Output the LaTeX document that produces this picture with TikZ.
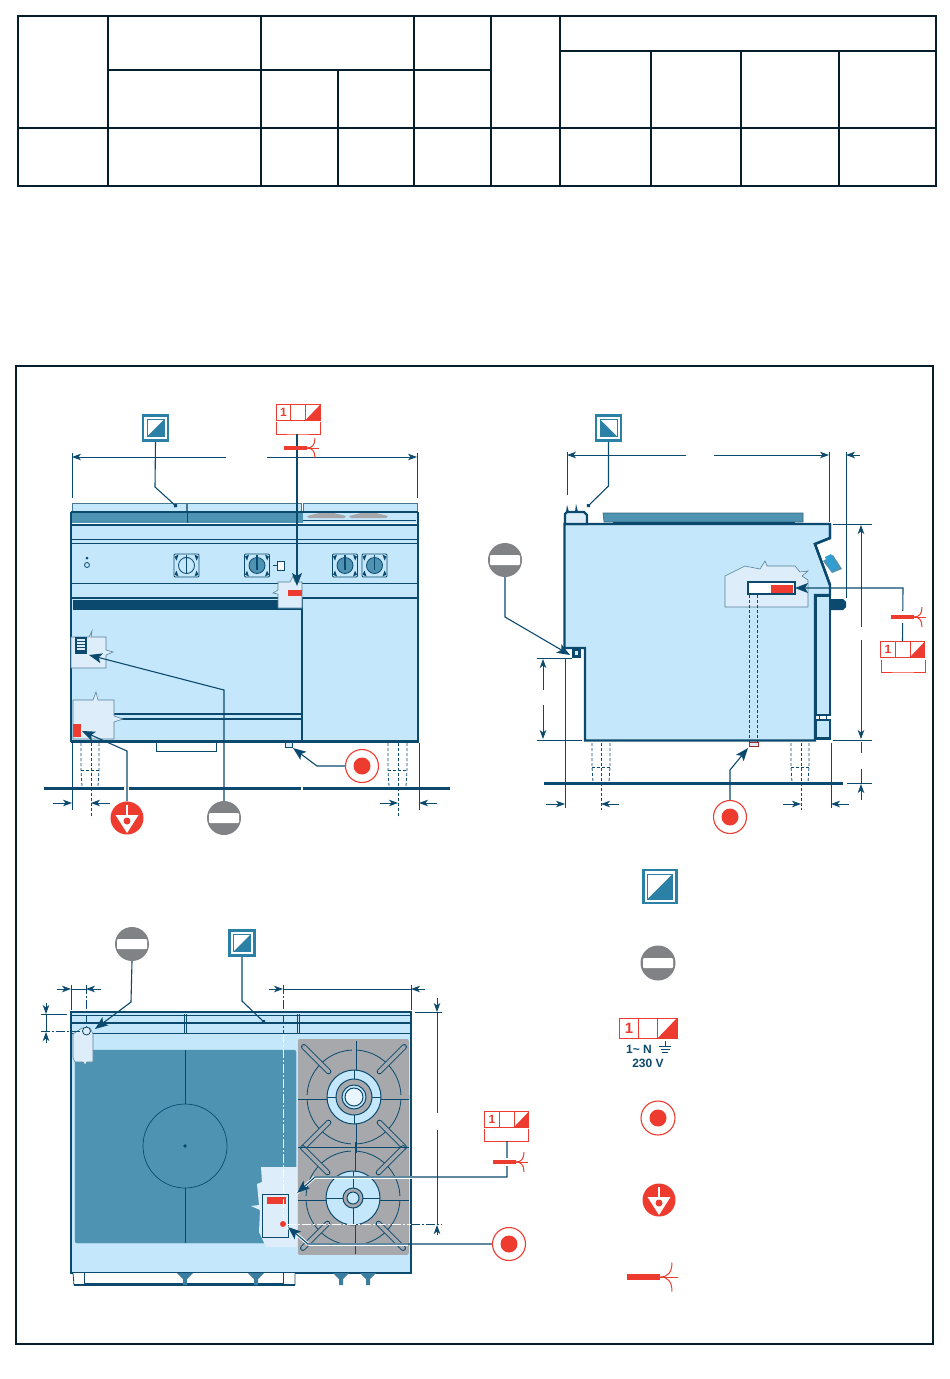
\documentclass[tikz,border=0pt]{standalone}
\usepackage{fontspec}
\setsansfont{Liberation Sans}
\usetikzlibrary{arrows.meta,calc}

\definecolor{navyline}{HTML}{0B4A6E}
\definecolor{bodyblue}{HTML}{C5E7FB}
\definecolor{cutblue}{HTML}{DDEDFA}
\definecolor{platemid}{HTML}{4F93B2}
\definecolor{gasteal}{HTML}{2A80A5}
\definecolor{signred}{HTML}{EE3B2F}
\definecolor{signgrey}{HTML}{808285}
\definecolor{hobgrey}{HTML}{A6A8AB}

\tikzset{
  dimline/.style={draw=navyline,line width=0.8pt},
  dimarrow/.style={dimline,-{Stealth[length=9pt,width=6.5pt,inset=2.5pt]}},
  legdash/.style={dimline,dash pattern=on 3pt off 2pt},
  chaindash/.style={line width=0.8pt,dash pattern=on 9pt off 2pt on 2pt off 2pt},
  leader/.style={draw=navyline,line width=1.1pt,-{Stealth[length=13pt,width=10pt,inset=3pt]}},
  dotleader/.style={draw=navyline,line width=1.1pt,-{Circle[length=4pt]}},
  casing/.style={draw=white,line width=3pt},
  thickedge/.style={draw=navyline,line width=2.4pt},
  thinedge/.style={draw=navyline,line width=0.8pt},
  cutout/.style={fill=cutblue,draw=navyline!70,line width=0.6pt},
  floorline/.style={draw=navyline,line width=3pt},
  % symbols
  gasbox/.style={rectangle,draw=gasteal,line width=2.6pt,fill=white,minimum size=#1,inner sep=0pt},
  gasright/.style={gasbox=#1,path picture={
    \draw[gasteal,line width=0.8pt] ($(path picture bounding box.north west)+(4,4)$)
      rectangle ($(path picture bounding box.south east)+(-4,-4)$);
    \fill[gasteal] ($(path picture bounding box.north east)+(-4,4)$)
      -- ($(path picture bounding box.south east)+(-4,-4)$)
      -- ($(path picture bounding box.south west)+(4,-4)$) -- cycle;}},
  gasleft/.style={gasbox=#1,path picture={
    \draw[gasteal,line width=0.8pt] ($(path picture bounding box.north west)+(4,4)$)
      rectangle ($(path picture bounding box.south east)+(-4,-4)$);
    \fill[gasteal] ($(path picture bounding box.north west)+(4,4)$)
      -- ($(path picture bounding box.south east)+(-4,-4)$)
      -- ($(path picture bounding box.south west)+(4,-4)$) -- cycle;}},
  nogosym/.style={circle,fill=signgrey,minimum size=34pt,inner sep=0pt,path picture={
    \fill[white,rounded corners=1pt] ($(path picture bounding box.center)+(-15,-5)$)
      rectangle ($(path picture bounding box.center)+(15,5)$);}},
  watersym/.style={circle,draw=signred,line width=1.1pt,fill=white,minimum size=33pt,inner sep=0pt,path picture={
    \fill[signred] (path picture bounding box.center) circle[radius=8.5pt];}},
  equisym/.style={circle,fill=signred,minimum size=33pt,inner sep=0pt,path picture={
    \fill[white] ($(path picture bounding box.center)+(-11.5,-3)$) -- ($(path picture bounding box.center)+(11.5,-3)$)
      -- ($(path picture bounding box.center)+(0,15)$) -- cycle;
    \draw[white,line width=1.3pt] ($(path picture bounding box.center)+(0,-13)$) -- (path picture bounding box.center);
    \fill[signred] ($(path picture bounding box.center)+(0,3)$) circle[radius=3.5pt];}},
  phasebox/.style={rectangle,draw=signred,line width=0.9pt,fill=white,minimum width=#1,minimum height=0.345*#1,inner sep=0pt,
    path picture={
    \fill[signred] (path picture bounding box.south east)
      -- ($(path picture bounding box.south east)!0.33!(path picture bounding box.south west)$)
      -- (path picture bounding box.north east) -- cycle;
    \draw[signred,line width=0.9pt] ($(path picture bounding box.south east)!0.33!(path picture bounding box.south west)$)
      -- ($(path picture bounding box.north east)!0.33!(path picture bounding box.north west)$);
    \draw[signred,line width=0.9pt] ($(path picture bounding box.south west)!0.33!(path picture bounding box.south east)$)
      -- ($(path picture bounding box.north west)!0.33!(path picture bounding box.north east)$);}},
  phaseno/.style={text=signred,inner sep=0pt},
  powerlabel/.style={text=navyline,font=\fontsize{#1}{12}\selectfont\sffamily\bfseries,inner sep=0pt},
  cablesym/.pic={
    \fill[signred] (0,-1.8) rectangle (23,1.8);
    \draw[signred,line width=1pt] (22,0) -- (35,0);
    \draw[signred,line width=1pt] (23,0) .. controls (28,0) and (31,-3) .. (31,-10);
    \draw[signred,line width=1pt] (23,0) .. controls (28,0) and (31,3) .. (31,10);
  },
  knobsym/.pic={
    \draw[thinedge,fill=bodyblue,rounded corners=1pt] (-12.5,-11.5) rectangle (12.5,11.5);
    \fill[platemid] (0,0) circle[radius=8];
    \draw[thinedge] (0,0) circle[radius=8];
    \draw[navyline,line width=1.8pt] (0,-11) -- (0,4);
    \foreach \a in {-1,1} {
      \fill[navyline] (\a*12,-9) -- (\a*8,-11) -- (\a*10,-5) -- cycle;
      \fill[navyline] (\a*12,9) -- (\a*8,11) -- (\a*10,5) -- cycle;
    }
  },
  burnersym/.pic={
    \draw[thinedge] (0,0) circle[radius=47];
    \foreach \a in {45,135,225,315} {
      \draw[navyline,line width=5.5pt,line cap=round] (\a:36) -- (\a:71);
      \draw[hobgrey,line width=3.8pt,line cap=round] (\a:36) -- (\a:71);
    }
    \foreach \a in {0,90,180,270} {
      \draw[navyline,line width=5pt] (\a:24) -- (\a:56);
      \draw[hobgrey,line width=3.2pt] (\a:24) -- (\a:56);
    }
    \draw[navyline,line width=1pt,fill=bodyblue] (0,0) circle[radius=27];
  }
}

\begin{document}
\begin{tikzpicture}[x=1pt,y=-1pt]
\useasboundingbox (0,0) rectangle (950,1379);

% table at the top
\draw[navyline!40!black,line width=2pt] (18,16) rectangle (936,186);
\foreach \x in {108,261,414,491,560}
  \draw[navyline!40!black,line width=1.5pt] (\x,16) -- (\x,186);
\foreach \x in {651,741,839}
  \draw[navyline!40!black,line width=1.5pt] (\x,51) -- (\x,186);
\draw[navyline!40!black,line width=1.5pt] (338,70) -- (338,186);
\draw[navyline!40!black,line width=1.5pt] (108,70) -- (491,70);
\draw[navyline!40!black,line width=1.5pt] (560,51) -- (936,51);
\draw[navyline!40!black,line width=1.5pt] (18,128) -- (936,128);

% outer frame
\draw[navyline!40!black,line width=1.4pt] (16,366) rectangle (933,1344);

%%%%% front view
\foreach \a/\b in {72/186,187/301,303/417}
  \draw[fill=bodyblue,draw=navyline!75,line width=0.9pt] (\a,512) -- (\a,503) -- (\b,503) -- (\b,512);
\fill[platemid] (72,512) rectangle (303,523);
\fill[bodyblue] (303,512) rectangle (418,523);
\foreach \a/\b in {307/346,349/388}
  \fill[hobgrey] (\a,516) -- (\a+12,513) -- (\b-12,513) -- (\b,516) -- (\b-2,518) -- (\a+2,518) -- cycle;
\draw[thinedge] (303,520) -- (416,520);
\draw[thinedge] (187,512) -- (187,523);
\draw[thickedge] (71,512) -- (418,512);
\draw[thickedge,fill=bodyblue] (71,525) rectangle (418,741);
\draw[thickedge] (71,512) -- (71,525);
\draw[thickedge] (418,512) -- (418,525);
\draw[thinedge] (71,539) -- (418,539);
\draw[thinedge] (71,543) -- (418,543);
\draw[thinedge] (71,583) -- (418,583);
\draw[thickedge] (71,598) -- (418,598);
\fill[navyline] (73,600) rectangle (302,610);
\draw[navyline,line width=2.5pt] (302,598) -- (302,741);
\draw[navyline,line width=1.8pt] (110,714) -- (302,714);
\draw[navyline,line width=1.8pt] (110,719) -- (302,719);
\draw[navyline,line width=3pt] (71,741) -- (419,741);
% controls
\pic at (186.5,565.5) {knobsym};
\pic at (257,565.5) {knobsym};
\pic at (345,565.5) {knobsym};
\pic at (374.5,565.5) {knobsym};
\fill[bodyblue] (178,558) rectangle (195,574);
\draw[thinedge] (186.5,565.5) circle[radius=8];
\draw[navyline,line width=1.4pt] (186.5,557) -- (186.5,574);
\draw[thinedge,fill=white] (277,561) rectangle (284,570);
\draw[thinedge] (277,565) -- (273,565);
\draw[thinedge] (87,565) circle[radius=2.5];
\fill[navyline] (87,558) circle[radius=1.5];
% cut-aways
\draw[cutout] (278,582) -- (290,582) -- (293,576) -- (295,582) -- (302,582) -- (302,608) -- (278,608) -- (278,594) -- (273,593) -- (278,590) -- cycle;
\fill[signred] (288,590) rectangle (302,596);
\draw[cutout] (71,637) -- (89,637) -- (92,631) -- (91,637) -- (106,637) -- (106,650) -- (113,652) -- (106,655) -- (106,668) -- (71,668) -- cycle;
\fill[navyline] (75,637) rectangle (87,654);
\foreach \y in {640,643,646,649}
  \draw[cutblue,line width=1.2pt] (77,\y) -- (85,\y);
\draw[cutout] (73,700) -- (93,700) -- (96,692) -- (98,700) -- (114,700) -- (114,716) -- (123,719) -- (114,722) -- (114,739) -- (73,739) -- cycle;
\fill[signred] (73,724) rectangle (81,737);
\draw[thinedge] (156,743) -- (156,751) -- (216,751) -- (216,743);
\draw[thinedge,fill=cutblue] (285,742) rectangle (292,747);
% feet under the cooker
\foreach \a/\b/\c in {81/91/99,388/398/407} {
  \draw[legdash] (\a,743) -- (\a,770) -- (\a+1,786);
  \draw[legdash] (\c,743) -- (\c,770) -- (\c-1,786);
  \draw[legdash] (\a,770) -- (\c,770);
  \draw[legdash] (\b,743) -- (\b,818);
}
\draw[floorline] (44,788) -- (124,788);
\draw[floorline] (129,788) -- (301,788);
\draw[floorline] (303,788) -- (450,788);
% dimensions
\draw[dimline] (72,453) -- (72,498);
\draw[dimline] (417,453) -- (417,498);
\draw[dimarrow] (226,457) -- (72,457);
\draw[dimarrow] (267,457) -- (417,457);
\draw[dimline] (72,743) -- (72,810);
\draw[dimline] (419,743) -- (419,810);
\draw[dimarrow] (53,803) -- (72,803);
\draw[dimarrow] (110,803) -- (91,803);
\draw[dimarrow] (380,803) -- (398,803);
\draw[dimarrow] (437,803) -- (419,803);
% symbols and their leaders
\node[gasright=25pt] (fgas) at (155.5,428) {};
\coordinate (fgasbend) at (155,487);
\coordinate (fgastip) at (177,507);
\draw[dotleader] (fgas.south) -- (fgasbend) -- (fgastip);
\node[phasebox=44pt] (fphase) at (298,412.5) {};
\node[phaseno,font=\fontsize{12}{12}\selectfont\sffamily\bfseries] (fphaseno) at (283.5,412.5) {1};
\coordinate (fphasea) at (276,422);
\coordinate (fphaseb) at (320,422);
\coordinate (fphasec) at (297,434);
\coordinate (fphasetip) at (297,586);
\draw[signred,line width=0.9pt] (fphasea) |- (fphasec) -| (fphaseb);
\draw[leader] (fphasec) -- (fphasetip);
\pic at (284,448) {cablesym};
\node[equisym] (fequi) at (127,818) {};
\coordinate (fequibend) at (127,751);
\coordinate (fequitip) at (82,731);
\draw[leader] (fequi.north) -- (fequibend) -- (fequitip);
\node[nogosym] (fnogo) at (224,818) {};
\coordinate (fnogobend) at (224,690);
\coordinate (fnogotip) at (89,655);
\draw[leader] (fnogo.north) -- (fnogobend) -- (fnogotip);
\node[watersym] (fwater) at (362,766) {};
\coordinate (fwaterbend) at (317,766);
\coordinate (fwatertip) at (293,748);
\draw[leader] (fwater.west) -- (fwaterbend) -- (fwatertip);

%%%%% side view
\draw[thickedge,fill=bodyblue] (564.5,524) -- (830,524) -- (830,538) -- (815,544) -- (830,585) -- (830,595) -- (815,595) -- (815,740.5) -- (585,740.5) -- (585,648) -- (564.5,648) -- cycle;
\fill[white] (832,540) -- (817,545) -- (832,584) -- cycle;
\draw[thickedge] (830,524) -- (830,538) -- (815,544) -- (830,585);
\draw[thickedge,fill=cutblue] (565,524) -- (565,514) -- (567,512) -- (584,512) -- (587,515) -- (587,524) -- cycle;
\fill[navyline] (566,512) -- (567,505) -- (569,512) -- (575,512) -- (576,504) -- (578,512) -- (584,512) -- cycle;
\draw[platemid!70!black,fill=platemid,line width=0.6pt] (603,513) -- (803,513) -- (803,522) -- (604,522) -- cycle;
\draw[thinedge] (613,522) -- (795,522);
\fill[platemid] (823,561) -- (833,555) -- (842,569) -- (832,573) -- cycle;
\fill[cyan!60!gasteal] (825,557) -- (831,554) -- (838,568) -- (831,571) -- cycle;
\draw[thickedge,fill=bodyblue] (816,595.5) rectangle (830,715);
\fill[navyline] (830,599) -- (843,599) -- (846,602) -- (846,607) -- (843,610) -- (830,610) -- cycle;
\draw[thinedge,fill=white] (819,715) rectangle (826,720);
\draw[thickedge,fill=bodyblue] (816,720) rectangle (830,738.5);
% cut-away with the terminal
\draw[cutout] (725,576) -- (745,566) -- (760,569) -- (765,561) -- (767,566) -- (795,566) -- (800,572) -- (808,571) -- (802,576) -- (808,580) -- (808,607) -- (725,607) -- cycle;
\draw[thickedge,fill=white] (748,582) rectangle (795,594);
\fill[signred] (771,585) rectangle (793,593);
\draw[legdash] (749,595) -- (749,743);
\draw[legdash] (757.5,595) -- (757.5,743);
\draw[draw=signred!70!black,fill=cutblue,line width=0.8pt] (749,742) rectangle (758,746);
\fill[navyline] (572,649) rectangle (581,658);
\fill[cutblue] (575,651) rectangle (578,655);
% feet and floor
\foreach \a/\b/\c in {592/601/610,791/801/809} {
  \draw[legdash] (\a,743) -- (\a,767) -- (\a+1,782);
  \draw[legdash] (\c,743) -- (\c,767) -- (\c-1,782);
  \draw[legdash] (\a,767) -- (\c,767);
  \draw[legdash] (\b,743) -- (\b,810);
}
\draw[floorline] (544,783) -- (843,783);
% dimensions
\draw[dimline] (567,452) -- (567,495);
\draw[dimline] (829,452) -- (829,522);
\draw[dimline] (846,452) -- (846,598);
\draw[dimarrow] (686,455) -- (567,455);
\draw[dimarrow] (714,455) -- (829,455);
\draw[dimarrow] (860,455) -- (846,455);
\draw[dimline] (833,524) -- (872,524);
\draw[dimline] (833,740) -- (872,740);
\draw[dimline] (847,783) -- (872,783);
\draw[dimarrow] (861,627) -- (861,525);
\draw[dimarrow] (861,640) -- (861,739);
\draw[dimline] (861,742) -- (861,753);
\draw[dimline] (861,769) -- (861,783);
\draw[dimarrow] (861,800) -- (861,784);
\draw[dimline] (537,658) -- (572,658);
\draw[dimline] (537,740) -- (582,740);
\draw[dimarrow] (543,690) -- (543,659);
\draw[dimarrow] (543,705) -- (543,739);
\draw[dimline] (565,658) -- (565,808);
\draw[dimline] (831,743) -- (831,808);
\draw[dimarrow] (546,804) -- (565,804);
\draw[dimarrow] (619,804) -- (601,804);
\draw[dimarrow] (783,804) -- (801,804);
\draw[dimarrow] (849,804) -- (831,804);
% symbols and their leaders
\node[gasleft=25pt] (sgas) at (608.5,428) {};
\coordinate (sgasbend) at (608.5,486);
\coordinate (sgastip) at (587,507);
\draw[dotleader] (sgas.south) -- (sgasbend) -- (sgastip);
\node[nogosym] (snogo) at (505,560) {};
\coordinate (snogobend) at (505,617);
\coordinate (snogotip) at (570,655);
\draw[leader] (snogo.south) -- (snogobend) -- (snogotip);
\node[watersym] (swater) at (730,817) {};
\coordinate (swaterbend) at (730,770);
\coordinate (swatertip) at (748,748);
\draw[leader] (swater.north) -- (swaterbend) -- (swatertip);
\node[phasebox=44pt] (sphase) at (902.5,649.5) {};
\node[phaseno,font=\fontsize{12}{12}\selectfont\sffamily\bfseries] (sphaseno) at (888,649.5) {1};
\coordinate (sphasea) at (881,660);
\coordinate (sphaseb) at (925,660);
\coordinate (sphasec) at (903,672);
\coordinate (sphasebend) at (903,588);
\coordinate (sphasetip) at (795,588);
\draw[signred,line width=0.9pt] (sphasea) |- (sphasec) -| (sphaseb);
\draw[leader] (sphase.north) -- (sphasebend) -- (sphasetip);
\fill[white] (899,611) rectangle (907,623);
\pic at (891,617) {cablesym};

%%%%% top view
\draw[thickedge,fill=bodyblue] (71,1012) rectangle (411,1273);
\draw[thickedge] (71,1023) -- (411,1023);
\draw[thinedge] (71,1033) -- (411,1033);
\draw[thinedge] (71,1015) -- (411,1015);
\foreach \x in {184,186,297,299}
  \draw[thinedge] (\x,1014) -- (\x,1033);
\draw[platemid,fill=platemid,rounded corners=2pt] (75,1050) rectangle (296,1243);
\draw[navyline,line width=0.7pt] (185,1050) -- (185,1104);
\draw[navyline,line width=0.7pt] (185,1188) -- (185,1243);
\draw[navyline,line width=0.7pt] (185,1146) circle[radius=42];
\fill[navyline] (185,1146) circle[radius=1.8];
\begin{scope}
  \clip[rounded corners=2pt] (298,1039) rectangle (409,1255);
  \fill[hobgrey] (298,1039) rectangle (409,1255);
  \pic at (354,1097) {burnersym};
  \pic at (353,1198) {burnersym};
  \draw[thinedge] (298,1147) -- (409,1147);
\end{scope}
% inner parts of the two burners
\draw[navyline,line width=1pt] (354,1070) -- (354,1124);
\draw[navyline,line width=1pt] (327,1097) -- (381,1097);
\draw[navyline,line width=1pt] (326,1198) -- (380,1198);
\draw[navyline,line width=1pt] (353,1171) -- (353,1225);
\draw[navyline,line width=1pt,fill=hobgrey] (354,1097) circle[radius=18];
\draw[navyline,line width=1pt,fill=bodyblue] (354,1097) circle[radius=12];
\draw[navyline,line width=1pt,fill=white!60!bodyblue] (354,1097) circle[radius=9];
\draw[navyline,line width=1pt,fill=hobgrey] (353,1198) circle[radius=10];
\draw[navyline,line width=1pt,fill=bodyblue] (353,1198) circle[radius=6];
% front knobs
\draw[thinedge,fill=white] (73,1273) -- (74,1285) -- (295,1285) -- (295,1273);
\draw[thickedge] (74,1285) -- (295,1285);
\draw[thinedge] (84,1273) -- (84,1283) -- (283,1283) -- (283,1273);
\foreach \x in {185,256,341,368}
  \fill[platemid!70!navyline] (\x-8,1273) -- (\x+8,1273) -- (\x+2,1279) -- (\x+2,1285) -- (\x-2,1285) -- (\x-2,1279) -- cycle;
% cut-aways
\draw[cutout] (73,1034) -- (82,1028) -- (90,1028) -- (93,1034) -- (93,1062) -- (87,1062) -- (85,1065) -- (83,1062) -- (75,1062) -- (73,1058) -- cycle;
\draw[thinedge,fill=cutblue] (86.5,1031) circle[radius=4];
\draw[cutout,draw=none] (266,1167) -- (297,1167) -- (297,1247) -- (266,1247) -- (259,1232) -- (260,1210) -- (251,1206) -- (259,1205) -- (257,1184) -- (262,1182) -- (261,1167) -- cycle;
\draw[navyline,line width=0.7pt,fill=cutblue] (262,1194) rectangle (288,1237);
\fill[signred] (267,1197) rectangle (286,1204);
\fill[signred] (283,1224) circle[radius=3];
% centre lines of the connections
\draw[chaindash,navyline] (283,985) -- (283,1034);
\draw[chaindash,white] (283,1034) -- (283,1221);
\draw[chaindash,white] (287,1224) -- (411,1224);
\draw[chaindash,navyline] (411,1224) -- (442,1224);
\draw[chaindash,navyline] (41,1031) -- (83,1031);
\draw[chaindash,navyline] (86,985) -- (86,1027);
% dimensions
\draw[dimline] (71,985) -- (71,1010);
\draw[dimline] (411,985) -- (411,1010);
\draw[dimline] (71,989) -- (86,989);
\draw[dimarrow] (57,989) -- (71,989);
\draw[dimarrow] (101,989) -- (86,989);
\draw[dimline] (283,989) -- (411,989);
\draw[dimarrow] (269,989) -- (283,989);
\draw[dimarrow] (425,989) -- (411,989);
\draw[dimline] (415,1012) -- (442,1012);
\draw[dimarrow] (437,998) -- (437,1012);
\draw[dimarrow] (437,1235) -- (437,1225);
\draw[dimline] (437,1012) -- (437,1113);
\draw[dimline] (437,1130) -- (437,1224);
\draw[dimline] (41,1014) -- (67,1014);
\draw[dimarrow] (46,1003) -- (46,1014);
\draw[dimarrow] (46,1043) -- (46,1032);
\draw[dimline] (46,1014) -- (46,1032);
% symbols and their leaders
\node[nogosym] (tnogo) at (132,944) {};
\coordinate (tnogobend) at (131,1002);
\coordinate (tnogotip) at (95,1029);
\draw[leader] (tnogo.south) -- (tnogobend) -- (tnogotip);
\node[gasright=25pt] (tgas) at (242,943) {};
\coordinate (tgasbend) at (242,1001);
\coordinate (tgastip) at (265,1023);
\draw[dotleader] (tgas.south) -- (tgasbend) -- (tgastip);
\node[phasebox=44pt] (tphase) at (506.5,1119.5) {};
\node[phaseno,font=\fontsize{12}{12}\selectfont\sffamily\bfseries] (tphaseno) at (492,1119.5) {1};
\coordinate (tphasea) at (484.5,1129);
\coordinate (tphaseb) at (528.5,1129);
\coordinate (tphasec) at (507,1141);
\coordinate (tphasebend) at (507,1177);
\coordinate (tphaseturn) at (315,1177);
\coordinate (tphasetip) at (297,1193);
\draw[signred,line width=0.9pt] (tphasea) |- (tphasec) -| (tphaseb);
\draw[casing] (tphaseturn) -- ++(100,0);
\draw[casing] (tphaseturn) -- (tphasetip);
\draw[leader] (tphasec) -- (tphasebend) -- (tphaseturn) -- (tphasetip);
\fill[white] (503,1158) rectangle (511,1166);
\pic at (493,1162) {cablesym};
\node[watersym] (twater) at (509,1244) {};
\coordinate (twaterbend) at (308,1244);
\coordinate (twatertip) at (288,1227);
\draw[casing] (twaterbend) -- ++(100,0);
\draw[casing] (twaterbend) -- (twatertip);
\draw[leader] (twater.west) -- (twaterbend) -- (twatertip);

%%%%% legend
\node[gasright=33pt] (leggas) at (660,886.5) {};
\node[nogosym,minimum size=35pt] (legnogo) at (658,963) {};
\node[phasebox=58pt] (legphase) at (648,1028) {};
\node[phaseno,font=\fontsize{15}{15}\selectfont\sffamily\bfseries] (legphaseno) at (629,1028) {1};
\node[powerlabel=12,anchor=west] (legnet) at (626,1049) {1\textasciitilde{} N};
\node[powerlabel=12] (legvolt) at (648,1063.5) {230 V};
\coordinate (legearth) at (665,1041);
\draw[navyline,line width=0.9pt] (legearth) -- ++(0,5);
\draw[navyline,line width=0.9pt] ($(legearth)+(-6,5)$) -- ++(12,0);
\draw[navyline,line width=0.9pt] ($(legearth)+(-4.5,8)$) -- ++(9,0);
\draw[navyline,line width=0.9pt] ($(legearth)+(-3,11)$) -- ++(6,0);
\node[watersym,minimum size=34pt] (legwater) at (658,1118) {};
\node[equisym] (legequi) at (659,1200) {};
\pic[scale=1.45] at (627,1277) {cablesym};
\end{tikzpicture}
\end{document}
